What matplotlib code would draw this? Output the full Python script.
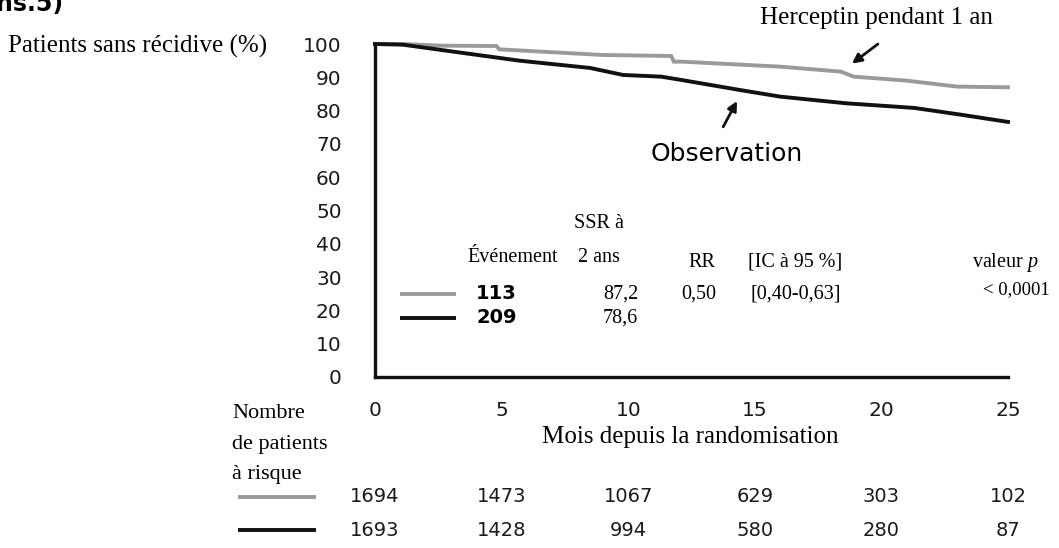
import matplotlib.pyplot as plt
import matplotlib.transforms as mtransforms
from matplotlib.lines import Line2D

# Survival curves (months, % free of recurrence)
herceptin_months = [0, 1.1, 2.6, 4.8, 4.9, 9.0, 11.7, 11.8, 12.1, 16.0, 18.4, 18.9, 21.0, 23.0, 25.0]
herceptin_pct = [100, 100, 99.5, 99.4, 98.4, 96.7, 96.4, 94.7, 94.7, 93.2, 91.7, 90.2, 89.0, 87.2, 87.0]

observation_months = [0, 1.1, 3.1, 5.7, 8.5, 9.8, 11.3, 12.1, 14.4, 16.0, 18.6, 21.3, 23.2, 25.0]
observation_pct = [100, 99.8, 97.7, 95.0, 92.8, 90.7, 90.2, 89.2, 86.2, 84.2, 82.2, 80.8, 78.7, 76.6]

x_ticks = [0, 5, 10, 15, 20, 25]
y_ticks = [0, 10, 20, 30, 40, 50, 60, 70, 80, 90, 100]

# Patients at risk
at_risk_herceptin = [1694, 1473, 1067, 629, 303, 102]
at_risk_observation = [1693, 1428, 994, 580, 280, 87]

# Summary table
events = ["113", "209"]
dfs_2y = ["87,2", "78,6"]
hr_text = "0,50"
ci_text = "[0,40-0,63]"
p_text = "< 0,0001"

GRAY = "#9a9a9a"
BLACK = "#111111"
SERIF = "Liberation Serif"
SANS = "DejaVu Sans"

plt.rcParams["mathtext.fontset"] = "custom"
plt.rcParams["mathtext.rm"] = "Liberation Serif"
plt.rcParams["mathtext.it"] = "Liberation Serif:italic"

W, H = 1059, 548
fig = plt.figure(figsize=(W / 100, H / 100), dpi=100)


def fx(px):
    return px / W


def fy(py):
    return 1 - py / H


ax = fig.add_axes([fx(375), fy(377), fx(1008) - fx(375), fy(44) - fy(377)])
ax.set_xlim(0, 25)
ax.set_ylim(0, 100)

ax.plot(herceptin_months, herceptin_pct, color=GRAY, lw=2.8, solid_joinstyle="miter", clip_on=False)
ax.plot(observation_months, observation_pct, color=BLACK, lw=2.8, solid_joinstyle="miter", clip_on=False)

for side in ["top", "right"]:
    ax.spines[side].set_visible(False)
for side in ["left", "bottom"]:
    ax.spines[side].set_linewidth(2.4)
    ax.spines[side].set_color(BLACK)

ax.set_yticks(y_ticks)
ax.set_yticklabels([str(v) for v in y_ticks], fontsize=14.5, family=SANS, color="#1a1a1a")
ax.set_xticks(x_ticks)
ax.set_xticklabels([str(v) for v in x_ticks], fontsize=14.5, family=SANS, color="#1a1a1a")
ax.tick_params(axis="y", length=0, pad=24)
ax.tick_params(axis="x", length=0, pad=17)

# Axis titles
fig.text(fx(8), fy(46), "Patients sans récidive (%)", family=SERIF, fontsize=18,
         ha="left", va="center")
fig.text(fx(690), fy(437), "Mois depuis la randomisation", family=SERIF, fontsize=18,
         ha="center", va="center")

# Cut-off heading at the very top
fig.text(fx(-4), fy(11), "ns.5)", family=SANS, fontsize=17, fontweight="bold",
         ha="left", va="baseline")

# Curve labels with arrows
ax.text(19.8, 107.8, "Herceptin pendant 1 an", family=SERIF, fontsize=18,
        ha="center", va="center", clip_on=False)
ax.annotate("", xy=(18.75, 93.6), xytext=(19.95, 100.5),
            arrowprops=dict(arrowstyle="-|>", color=BLACK, lw=2, mutation_scale=14),
            annotation_clip=False)
ax.text(13.9, 67.0, "Observation", family=SANS, fontsize=18, ha="center", va="center")
ax.annotate("", xy=(14.35, 83.6), xytext=(13.7, 74.4),
            arrowprops=dict(arrowstyle="-|>", color=BLACK, lw=2, mutation_scale=14),
            annotation_clip=False)

# Summary table inside the plot
TS = 14.5
ax.text(8.85, 46.0, "SSR à", family=SERIF, fontsize=TS, ha="center", va="center")
ax.text(5.45, 35.8, "Événement", family=SERIF, fontsize=TS, ha="center", va="center")
ax.text(8.85, 35.8, "2 ans", family=SERIF, fontsize=TS, ha="center", va="center")
ax.text(12.9, 34.5, "RR", family=SERIF, fontsize=TS, ha="center", va="center")
ax.text(16.6, 34.5, "[IC à 95 %]", family=SERIF, fontsize=TS, ha="center", va="center")
ax.text(24.9, 34.5, "valeur $\\it{p}$", family=SERIF, fontsize=TS, ha="center", va="center",
        clip_on=False)

row_y = [25.0, 17.8]
row_colors = [GRAY, BLACK]
for i in range(2):
    ax.plot([1.0, 3.2], [row_y[i], row_y[i]], color=row_colors[i], lw=2.8,
            solid_capstyle="butt")
    ax.text(4.8, row_y[i], events[i], family=SANS, fontsize=14, fontweight="semibold",
            ha="center", va="center")
    ax.text(9.7, row_y[i], dfs_2y[i], family=SERIF, fontsize=TS, ha="center", va="center")
ax.text(12.8, row_y[0], hr_text, family=SERIF, fontsize=TS, ha="center", va="center")
ax.text(16.6, row_y[0], ci_text, family=SERIF, fontsize=TS, ha="center", va="center")
ax.text(25.35, 26.3, p_text, family=SERIF, fontsize=13.5, ha="center", va="center",
        clip_on=False)

# Patients at risk table below the axis
fig.text(fx(232), fy(414), "Nombre", family=SERIF, fontsize=16, ha="left", va="center")
fig.text(fx(232), fy(444), "de patients", family=SERIF, fontsize=16, ha="left", va="center")
fig.text(fx(232), fy(474), "à risque", family=SERIF, fontsize=16, ha="left", va="center")

blend = mtransforms.blended_transform_factory(ax.transData, fig.transFigure)
risk_rows = [at_risk_herceptin, at_risk_observation]
risk_y = [fy(497), fy(530)]
for i in range(2):
    fig.add_artist(Line2D([fx(238), fx(316)], [risk_y[i], risk_y[i]], color=row_colors[i],
                          lw=2.8, solid_capstyle="butt"))
    for m, n in zip(x_ticks, risk_rows[i]):
        ax.text(m, risk_y[i], str(n), transform=blend, family=SANS, fontsize=14,
                ha="center", va="center", clip_on=False, color="#1a1a1a")

fig.savefig("out.png", dpi=100)
